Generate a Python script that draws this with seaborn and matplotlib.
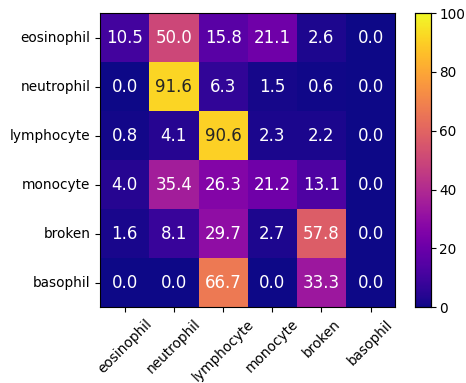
import matplotlib
matplotlib.use("Agg")
import matplotlib.pyplot as plt
import seaborn as sns
import numpy as np

labels = ["eosinophil", "neutrophil", "lymphocyte", "monocyte", "broken", "basophil"]
row_eosinophil = [10.5, 50.0, 15.8, 21.1, 2.6, 0.0]
row_neutrophil = [0.0, 91.6, 6.3, 1.5, 0.6, 0.0]
row_lymphocyte = [0.8, 4.1, 90.6, 2.3, 2.2, 0.0]
row_monocyte = [4.0, 35.4, 26.3, 21.2, 13.1, 0.0]
row_broken = [1.6, 8.1, 29.7, 2.7, 57.8, 0.0]
row_basophil = [0.0, 0.0, 66.7, 0.0, 33.3, 0.0]

data = np.array([row_eosinophil, row_neutrophil, row_lymphocyte,
                 row_monocyte, row_broken, row_basophil])

fig = plt.figure(figsize=(4.66, 3.83), dpi=100)
ax = fig.add_axes([0.215, 0.198, 0.633, 0.768])
cax = fig.add_axes([0.891, 0.198, 0.034, 0.768])

sns.heatmap(data, ax=ax, cbar_ax=cax, cmap="plasma", vmin=0, vmax=100,
            annot=True, fmt=".1f", annot_kws={"size": 12},
            xticklabels=labels, yticklabels=labels)

for s in ax.spines.values():
    s.set_visible(True)
    s.set_linewidth(0.8)
for s in cax.spines.values():
    s.set_visible(True)
    s.set_linewidth(0.8)

ax.tick_params(axis="both", labelsize=9.8, length=3.5, width=0.8)
plt.setp(ax.get_xticklabels(), rotation=45, ha="center", rotation_mode="default")
plt.setp(ax.get_yticklabels(), rotation=0)
cax.tick_params(labelsize=9.8, length=3.5, width=0.8, pad=2.5)
cax.set_yticks([0, 20, 40, 60, 80, 100])

fig.savefig("out.png", dpi=100)
